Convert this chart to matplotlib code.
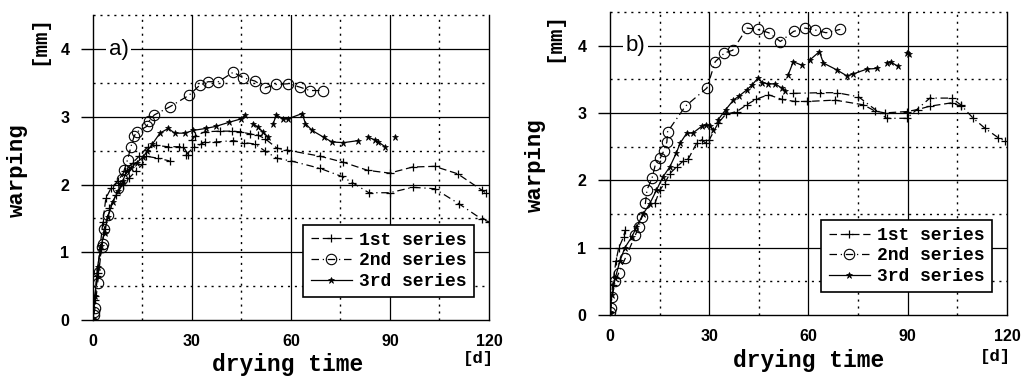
import numpy as np
import matplotlib.pyplot as plt

nan = np.nan

# ---- panel a) data (drying time [d], warping [mm]) ----
a_s1a_x = [0, 0.5, 1.2, 2, 3, 3.9, 5.5, 7.5, 9.6, 12, 14, 16.6, 19.1, 22.6, 26.1, 27.4, 28.9, nan,
           29.9, 31, 33.9, 38.4, 42, 44.5, 47.6, 50, 52.1, 55.7, 58.7, 68.8, 75.9, 83.3, 89.9,
           96.9, 103.5, 110.5, 117.8, 119]
a_s1a_y = [0.02, 0.3, 0.65, 1.0, 1.45, 1.8, 1.95, 2.05, 2.2, 2.32, 2.42, 2.56, 2.58, 2.56, 2.56, 2.56, 2.44, nan,
           2.66, 2.72, 2.78, 2.79, 2.79, 2.78, 2.75, 2.73, 2.68, 2.54, 2.51, 2.42, 2.33, 2.21, 2.17,
           2.26, 2.27, 2.16, 1.92, 1.88]
a_s1b_x = [0, 0.7, 1.5, 2.5, 3.5, 5, 7, 9, 11, 13, 15, 16, 19.7, 23.2, nan, 28.2, 30.5, 32.8, 33.9,
           37.4, 42.5, 45.7, 49.1, 52, 55.7, 60, 68.8, 75.4, 78.6, 83.6, 89.9, 96.9, 103.5, 110.8,
           117.8, 120]
a_s1b_y = [0.02, 0.35, 0.7, 1.05, 1.35, 1.65, 1.85, 2.0, 2.1, 2.2, 2.3, 2.42, 2.39, 2.35, nan, 2.44, 2.55, 2.6, 2.63,
           2.63, 2.65, 2.62, 2.6, 2.5, 2.39, 2.35, 2.24, 2.12, 2.03, 1.88, 1.88, 1.96, 1.94, 1.72,
           1.49, 1.45]
a_s2_x = [0.2, 0.4, 0.6, 1.4, 1.8, 2.6, 2.9, 3.4, 4.6, 7.7, 8.7, 9.5, 10.5, 11.5, 12.5, 13.4, 16.3, 17,
          18.6, 23.3, 29.1, 32.4, 34.9, 38, 42.5, 45.5, 49.1, 52.1, 55.6, 59.2, 62.7, 65.7, 69.6]
a_s2_y = [0.08, 0.12, 0.17, 0.54, 0.71, 1.08, 1.13, 1.35, 1.55, 1.95, 2.09, 2.22, 2.37, 2.56, 2.72, 2.78, 2.86, 2.94,
          3.03, 3.15, 3.32, 3.47, 3.52, 3.52, 3.66, 3.58, 3.53, 3.43, 3.48, 3.49, 3.44, 3.39, 3.39]
a_s3_x = [0, 0.6, 1.4, 2.5, 3.5, 4.5, 6, 7.7, 9, 10.2, 11.5, 13.2, 15.2, 16.5, 18, 20.3, 22.8, 24.8,
          27.8, 30.3, 34.2, 37.2, 41.2, 44.8, 46.1, nan, 48.5, 50, 51.5, 53.1, nan, 54.6, 55.6, 57.6,
          59, 63.4, 64.4, 66.4, 69.9, 72.4, 75.9, 80.4, nan, 83.4, 85.5, 86.5, 88.5, nan, 91.5]
a_s3_y = [0.02, 0.35, 0.79, 1.1, 1.29, 1.52, 1.75, 1.91, 2.05, 2.2, 2.25, 2.32, 2.41, 2.5, 2.6, 2.76, 2.83, 2.76,
          2.76, 2.8, 2.83, 2.86, 2.92, 2.97, 3.03, nan, 2.9, 2.85, 2.78, 2.7, nan, 2.9, 3.03, 2.97,
          2.97, 3.05, 2.9, 2.8, 2.7, 2.63, 2.62, 2.65, nan, 2.7, 2.66, 2.63, 2.56, nan, 2.7]

# ---- panel b) data ----
b_s1a_x = [0, 0.8, 1.8, 2.6, 4.1, 4.6, nan, 13.6, 15.1, 16.5, 18.1, 20.2, 22, 23.7, 26.2, 27.7, 29,
           30, 32.7, 35, 38.3, 41.3, 44, 47.9, 52, 55.9, 59.6, 68, 76.6, 80, 83, 89.7, 93, 96.7,
           103.3, 106]
b_s1a_y = [0.04, 0.45, 0.8, 0.99, 1.16, 1.26, nan, 1.66, 1.86, 1.95, 2.1, 2.2, 2.28, 2.32, 2.55, 2.6, 2.55,
           2.6, 2.85, 2.98, 3.02, 3.12, 3.2, 3.27, 3.2, 3.17, 3.17, 3.19, 3.12, 3.03, 3.0, 3.02, 3.05, 3.1,
           3.15, 3.1]
b_s1b_x = [55.4, 63.5, 68.5, 75.1, 83.6, 89.7, 96.7, 103.3, 106, 109.8, 113.4, 117.4, 119.5]
b_s1b_y = [3.29, 3.3, 3.3, 3.24, 2.92, 2.92, 3.22, 3.22, 3.12, 2.92, 2.77, 2.63, 2.58]
b_s2_x = [0.1, 0.3, 0.6, 1.6, 2.6, 4.6, 7.7, 8.7, 9.7, 10.7, 11.2, 12.7, 13.7, 15.2, 16.2, 17.2, 17.4,
          22.8, 29.3, 31.8, 34.6, 37.1, 41.4, 44.6, 48, 51.5, 55.5, 58.9, 62.1, 65.3, 69.6]
b_s2_y = [0.05, 0.1, 0.27, 0.5, 0.62, 0.84, 1.19, 1.31, 1.46, 1.66, 1.86, 2.03, 2.23, 2.33, 2.43, 2.57, 2.72,
          3.1, 3.37, 3.76, 3.89, 3.93, 4.26, 4.24, 4.19, 4.06, 4.21, 4.26, 4.23, 4.19, 4.24]
b_s3_x = [0, 0.6, 1.6, 3, 4.5, 6.6, 8, 10, 12, 14, 16, 18.1, 20, 21.2, 23.2, 25, 27.7, 29, 30.2, 31.2,
          nan, 32.7, 35, 37.3, 39, 41.3, 43, 44.8, 46, 47.9, 50, 51.9, 53, nan, 53.9, 55.4, 57.9, nan,
          60.5, 63.3, 64.5, 68.5, 71.6, 73.6, 77.6, 80.6, nan, 83.6, 85, 87.2, nan, 89.7, 90.5]
b_s3_y = [0.05, 0.3, 0.55, 0.8, 1.0, 1.16, 1.3, 1.5, 1.65, 1.85, 2.05, 2.2, 2.4, 2.55, 2.7, 2.7, 2.8, 2.82, 2.8, 2.75,
          nan, 2.9, 3.05, 3.19, 3.25, 3.34, 3.42, 3.52, 3.45, 3.43, 3.43, 3.37, 3.33, nan, 3.57, 3.76, 3.71, nan,
          3.79, 3.91, 3.74, 3.64, 3.55, 3.58, 3.65, 3.66, nan, 3.74, 3.75, 3.69, nan, 3.89, 3.87]

x_ticks = [0, 30, 60, 90, 120]
y_ticks = [0, 1, 2, 3, 4]
legend_labels = ['1st series', '2nd series', '3rd series']

mono = 'Liberation Mono'
dash = (0, (6, 3))
dashdot = (0, (6, 3, 1, 3))

fig = plt.figure(figsize=(10.24, 3.77), dpi=100)


def panel(rect, tag, tag_x, s1a, s1b, s2, s3):
    ax = fig.add_axes(rect)
    ax.set_xlim(0, 120)
    ax.set_ylim(0, 4.5)
    # grid: solid major, dotted minor
    for v in [30, 60, 90]:
        ax.axvline(v, color='k', lw=0.9, zorder=0)
    for v in [15, 45, 75, 105]:
        ax.axvline(v, color='k', lw=1.0, ls=(0, (1.5, 3.5)), zorder=0)
    for v in [1, 2, 3, 4]:
        ax.axhline(v, color='k', lw=0.9, zorder=0)
    for v in [0.5, 1.5, 2.5, 3.5, 4.5]:
        ax.axhline(v, color='k', lw=1.0, ls=(0, (1.5, 3.5)), zorder=0, clip_on=False)
    ax.spines['top'].set_visible(False)
    for s in ['left', 'bottom', 'right']:
        ax.spines[s].set_linewidth(1.0)

    l1, = ax.plot(s1a[0], s1a[1], color='k', lw=0.9, ls=dash, marker='+', ms=6, mew=0.9)
    ax.plot(s1b[0], s1b[1], color='k', lw=0.9, ls=dashdot, marker='+', ms=6, mew=0.9)
    l2, = ax.plot(s2[0], s2[1], color='k', lw=0.9, ls=dashdot, marker='o', ms=7.5, mfc='none', mew=0.8)
    l3, = ax.plot(s3[0], s3[1], color='k', lw=0.9, ls='-', marker='*', ms=5, mew=0.5)

    ax.set_xticks(x_ticks)
    ax.set_yticks(y_ticks)
    ax.tick_params(axis='x', length=0, pad=10)
    ax.tick_params(axis='y', length=9, width=1.0, direction='out', pad=8)
    for lab in ax.get_xticklabels() + ax.get_yticklabels():
        lab.set_fontfamily('Liberation Sans')
        lab.set_fontweight('bold')
        lab.set_fontsize(11.5)

    ax.text(tag_x, 4.0, tag, fontsize=16, family='Liberation Sans', ha='center', va='center',
            bbox=dict(facecolor='white', edgecolor='none', pad=2))

    leg = ax.legend([l1, l2, l3], legend_labels, loc='lower right', bbox_to_anchor=(0.985, 0.045),
                    prop={'family': mono, 'weight': 'bold', 'size': 13}, handlelength=2.3,
                    handletextpad=0.4, labelspacing=0.2, borderpad=0.4, fancybox=False,
                    framealpha=1, edgecolor='k')
    leg.get_frame().set_linewidth(1.2)
    return ax


panel([0.0908, 0.1512, 0.3867, 0.808], 'a)', 7.8,
      (a_s1a_x, a_s1a_y), (a_s1b_x, a_s1b_y), (a_s2_x, a_s2_y), (a_s3_x, a_s3_y))
panel([0.5957, 0.1645, 0.3877, 0.804], 'b)', 7.6,
      (b_s1a_x, b_s1a_y), (b_s1b_x, b_s1b_y), (b_s2_x, b_s2_y), (b_s3_x, b_s3_y))

# axis titles placed like in the scanned figure
lab = dict(family=mono, weight='bold')
fig.text(17 / 1024, 1 - 170 / 377, 'warping', rotation=90, ha='center', va='center', fontsize=16, **lab)
fig.text(39 / 1024, 1 - 40 / 377, '[mm]', rotation=90, ha='center', va='center', fontsize=15, **lab)
fig.text(288 / 1024, 1 - 365 / 377, 'drying time', ha='center', va='center', fontsize=16.5, **lab)
fig.text(478 / 1024, 1 - 359 / 377, '[d]', ha='center', va='center', fontsize=12.5, **lab)
fig.text(535 / 1024, 1 - 165 / 377, 'warping', rotation=90, ha='center', va='center', fontsize=16, **lab)
fig.text(554 / 1024, 1 - 37 / 377, '[mm]', rotation=90, ha='center', va='center', fontsize=15, **lab)
fig.text(809 / 1024, 1 - 360 / 377, 'drying time', ha='center', va='center', fontsize=16.5, **lab)
fig.text(995 / 1024, 1 - 356 / 377, '[d]', ha='center', va='center', fontsize=12.5, **lab)

plt.savefig('out.png', dpi=100)
